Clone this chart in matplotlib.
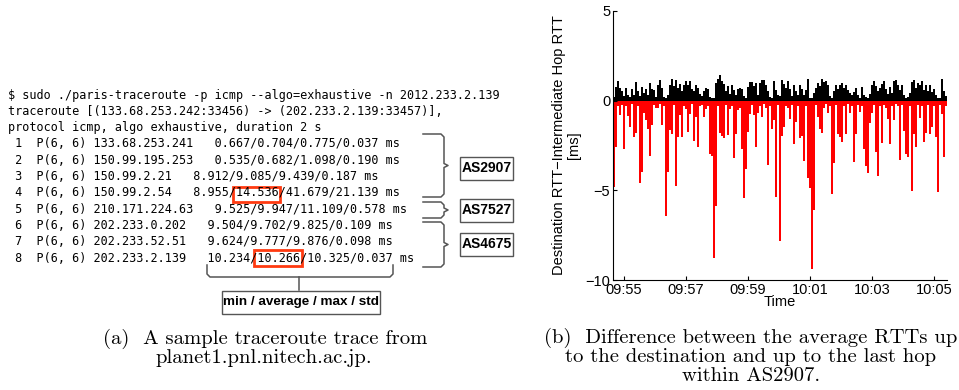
import numpy as np
import pandas as pd
import matplotlib
matplotlib.use("Agg")
import matplotlib.pyplot as plt
import matplotlib.dates as mdates
from matplotlib.patches import Rectangle

# ---- data ----
trace_lines = [
    "$ sudo ./paris-traceroute -p icmp --algo=exhaustive -n 2012.233.2.139",
    "traceroute [(133.68.253.242:33456) -> (202.233.2.139:33457)],",
    "protocol icmp, algo exhaustive, duration 2 s",
    " 1  P(6, 6) 133.68.253.241   0.667/0.704/0.775/0.037 ms",
    " 2  P(6, 6) 150.99.195.253   0.535/0.682/1.098/0.190 ms",
    " 3  P(6, 6) 150.99.2.21   8.912/9.085/9.439/0.187 ms",
    " 4  P(6, 6) 150.99.2.54   8.955/14.536/41.679/21.139 ms",
    " 5  P(6, 6) 210.171.224.63   9.525/9.947/11.109/0.578 ms",
    " 6  P(6, 6) 202.233.0.202   9.504/9.702/9.825/0.109 ms",
    " 7  P(6, 6) 202.233.52.51   9.624/9.777/9.876/0.098 ms",
    " 8  P(6, 6) 202.233.2.139   10.234/10.266/10.325/0.037 ms",
]
as_names = ["AS2907", "AS7527", "AS4675"]
stats_label = "min / average / max / std"

# difference destination RTT - intermediate hop RTT [ms], one sample every ~3.9 s
above = [0.2, 0.74, 1.07, 0.7, 0.52, 0.24, 0.7, 0.33, 0.2, 0.67,
         0.33, 1.04, 0.52, 0.24, 0.74, 0.43, 0.67, 0.3, 0.98, 0.67,
         0.61, 0.19, 0.89, 1.15, 0.7, 0.19, 0.15, 0.33, 0.89, 1.19,
         0.81, 1.15, 0.7, 0.93, 0.52, 0.85, 1.11, 0.89, 1.11, 0.67,
         0.52, 0.89, 0.7, 0.37, 0.24, 0.56, 0.7, 0.67, 0.19, 0.15,
         0.15, 0.98, 1.19, 1.44, 1.07, 0.93, 0.52, 0.8, 0.37, 0.89,
         0.61, 0.33, 0.67, 0.7, 0.67, 0.24, 0.15, 0.74, 1.04, 1.04,
         0.8, 0.98, 0.33, 0.98, 1.17, 1.15, 0.89, 0.52, 0.22, 0.15,
         1.07, 0.61, 0.33, 0.24, 1.17, 0.93, 0.7, 1.11, 0.67, 0.24,
         0.89, 0.56, 0.33, 0.85, 0.67, 0.3, 0.61, 1.22, 0.15, 0.15,
         0.43, 0.7, 0.98, 0.81, 1.19, 1.04, 1.11, 0.85, 0.24, 0.15,
         0.52, 0.85, 0.67, 0.89, 0.96, 0.7, 0.85, 0.61, 0.43, 0.33,
         0.48, 0.7, 0.33, 0.15, 0.74, 0.33, 0.19, 0.15, 0.37, 0.85,
         1.07, 0.8, 0.52, 0.7, 0.93, 1.11, 0.67, 0.37, 0.74, 0.43,
         1.07, 1.15, 0.85, 0.61, 0.89, 0.33, 0.15, 0.19, 0.43, 1.04,
         1.15, 0.7, 0.98, 0.85, 1.11, 0.61, 0.89, 0.52, 0.85, 0.48,
         0.67, 0.33, 0.15, 0.15, 1.19, 0.52, 0.24]
below = [-4.8, -2.56, -0.3, -0.78, -0.25, -2.7, -0.3, -0.85, -1.48, -0.2,
         -2.04, -1.8, -0.3, -4.6, -4.0, -0.7, -1.07, -1.6, -3.07, -1.33,
         -0.25, -0.4, -0.4, -0.2, -1.33, -0.3, -6.44, -4.0, -1.63, -1.85,
         -0.25, -4.74, -2.0, -0.81, -2.0, -0.3, -0.48, -1.74, -0.74, -0.2,
         -2.26, -0.93, -2.56, -0.3, -0.25, -0.93, -0.48, -0.3, -3.0, -3.07,
         -8.8, -5.9, -0.3, -1.78, -1.96, -2.07, -0.25, -1.93, -0.48, -0.3,
         -3.2, -1.85, -0.52, -0.4, -2.7, -5.4, -3.8, -1.74, -0.74, -0.25,
         -0.81, -2.56, -0.67, -0.3, -0.89, -0.2, -0.4, -3.56, -0.3, -1.56,
         -1.07, -5.37, -0.25, -7.8, -1.96, -1.48, -0.3, -0.4, -1.04, -0.25,
         -2.4, -1.19, -0.3, -2.07, -1.96, -3.37, -0.3, -4.3, -4.85, -9.37,
         -6.07, -0.25, -0.93, -1.6, -1.78, -0.4, -0.2, -0.7, -0.3, -5.2,
         -3.5, -0.25, -1.85, -2.0, -2.3, -0.3, -1.85, -0.2, -0.67, -0.3,
         -3.44, -1.85, -0.25, -0.63, -0.3, -2.67, -3.63, -4.04, -1.22, -0.7,
         -0.25, -2.85, -4.19, -0.3, -2.37, -0.25, -0.4, -1.0, -2.4, -0.3,
         -1.1, -0.2, -0.3, -3.33, -0.25, -1.67, -2.96, -3.15, -0.3, -5.04,
         -1.85, -2.6, -0.25, -0.96, -0.3, -2.3, -1.78, -0.25, -1.85, -1.48,
         -0.3, -2.0, -5.1, -0.25, -0.74, -3.15, -0.3]
times = pd.date_range("2012-06-01 09:54:40.6", periods=len(below), freq="3870ms")
xtick_labels = ["09:55", "09:57", "09:59", "10:01", "10:03", "10:05"]
yticks = [5, 0, -5, -10]

# ---- figure ----
fig = plt.figure(figsize=(9.59, 3.90), dpi=100)

# overlay in pixel coords for the traceroute panel and captions
ov = fig.add_axes([0, 0, 1, 1])
ov.set_xlim(0, 959)
ov.set_ylim(390, 0)
ov.axis("off")

mono = dict(family="DejaVu Sans Mono", fontsize=8.48, va="center", ha="left")
for i, line in enumerate(trace_lines):
    ov.text(8, 95 + 16.3 * i, line, **mono)

# red highlight boxes (14.536 and 10.266)
hl = "#ff3a10"
ov.add_patch(Rectangle((233, 187), 47, 15, fill=False, ec=hl, lw=2))
ov.add_patch(Rectangle((254, 250), 48, 16, fill=False, ec=hl, lw=2))

# right-hand braces
brace_c = "#555555"
def rbrace(y0, y1, x0=423, x1=444):
    ym = (y0 + y1) / 2
    xs = [x0, x1 - 3, x1, x1, x1 + 4, x1, x1, x1 - 3, x0]
    ys = [y0, y0, y0 + 3, ym - 2, ym, ym + 2, y1 - 3, y1, y1]
    ov.plot(xs, ys, color=brace_c, lw=1.1, solid_joinstyle="round")

rbrace(134, 197)
rbrace(202, 218)
rbrace(222, 267)

box_ec = "#555555"
label_y = [168, 210.5, 244]
for name, y in zip(as_names, label_y):
    ov.add_patch(Rectangle((460, y - 11.5), 53, 23, fc="white", ec=box_ec, lw=1))
    ov.text(486.5, y, name, fontsize=10, fontweight="bold", family="Liberation Sans",
            ha="center", va="center")

# brace under the last row
ov.plot([207, 207, 210, 390, 393, 393], [265, 274, 277, 277, 274, 265],
        color=brace_c, lw=1.1)
ov.plot([299, 299], [277, 290], color=brace_c, lw=1.1)
ov.add_patch(Rectangle((222, 291), 158, 23, fc="white", ec=box_ec, lw=1))
ov.text(301, 302.5, stats_label, fontsize=9.7, fontweight="bold", family="Liberation Sans",
        ha="center", va="center")

# captions
cap = dict(family="cmr10", fontsize=14.9, va="center")
ov.text(103, 339, "(a)  A sample traceroute trace from", ha="left", **cap)
ov.text(155, 358, "planet1.pnl.nitech.ac.jp.", ha="left", **cap)
ov.text(751, 338, "(b)  Difference between the average RTTs up", ha="center", **cap)
ov.text(751, 357, "to the destination and up to the last hop", ha="center", **cap)
ov.text(751, 376, "within AS2907.", ha="center", **cap)

# ---- bar chart ----
ax = fig.add_axes([613 / 959, 1 - 280 / 390, 334 / 959, 269 / 390])
w = 3.87 / 86400 * 1.05
ax.bar(times, above, width=w, color="black", linewidth=0, align="center")
ax.bar(times, below, width=w, color="red", linewidth=0, align="center")

ax.set_ylim(-10, 5)
ax.set_xlim(pd.Timestamp("2012-06-01 09:54:38.7"), pd.Timestamp("2012-06-01 10:05:25"))
ax.set_yticks(yticks)
ax.set_xticks([pd.Timestamp("2012-06-01 " + t) for t in xtick_labels])
ax.xaxis.set_major_formatter(mdates.DateFormatter("%H:%M"))
ax.tick_params(direction="in", length=3, labelsize=10.5, pad=2)
for lab in ax.get_xticklabels() + ax.get_yticklabels():
    lab.set_family("Liberation Sans")
ax.spines["top"].set_visible(False)
ax.spines["right"].set_visible(False)
ax.set_xlabel("Time", fontsize=10.5, family="Liberation Sans", labelpad=-1)
ax.set_ylabel("Destination RTT\u2212Intermediate Hop RTT\n[ms]", fontsize=10.5,
              family="Liberation Sans", labelpad=3, linespacing=1.1)

fig.savefig("out.png", dpi=100)
